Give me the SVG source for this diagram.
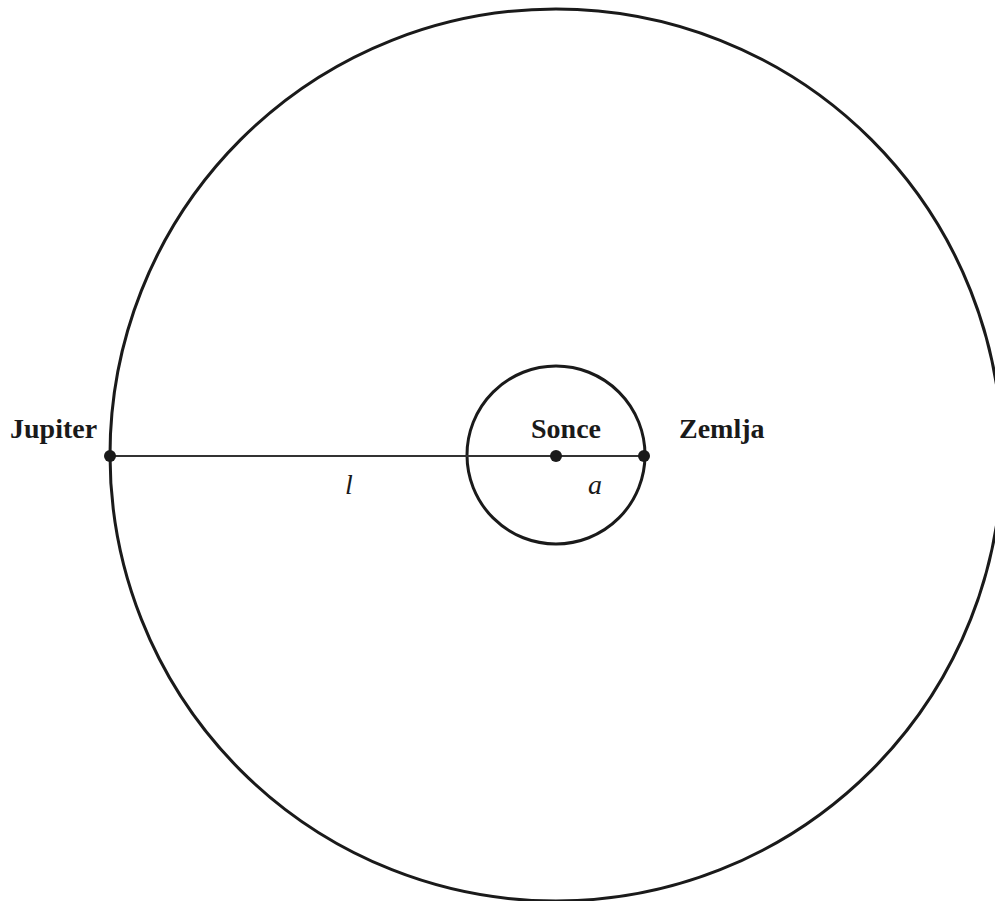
<svg xmlns="http://www.w3.org/2000/svg" width="995" height="901" viewBox="0 0 995 901">
<style>
.orbit{fill:none;stroke:#1a1a1a;stroke-width:3}
.dot{fill:#1a1a1a}
.lbl{font-family:"Liberation Serif",serif;font-weight:bold;font-size:28px;fill:#1a1a1a}
.var{font-family:"Liberation Serif",serif;font-style:italic;font-size:28px;fill:#1a1a1a}
</style>
<rect width="995" height="901" fill="#fff"/>
<g id="orbits">
<circle class="orbit" cx="556" cy="455" r="446"/>
<circle class="orbit" cx="556" cy="455" r="89"/>
</g>
<g id="connectors">
<line x1="110" y1="456" x2="644" y2="456" stroke="#333" stroke-width="2"/>
</g>
<g id="jupiter"><circle class="dot" cx="110" cy="456" r="6"/><text class="lbl" x="10" y="438">Jupiter</text></g>
<g id="sonce"><circle class="dot" cx="556" cy="456" r="6"/><text class="lbl" x="531" y="438">Sonce</text></g>
<g id="zemlja"><circle class="dot" cx="644" cy="456" r="6"/><text class="lbl" x="679" y="438">Zemlja</text></g>
<g id="labels">
<text class="var" x="345" y="494">l</text>
<text class="var" x="588" y="494">a</text>
</g>
</svg>
